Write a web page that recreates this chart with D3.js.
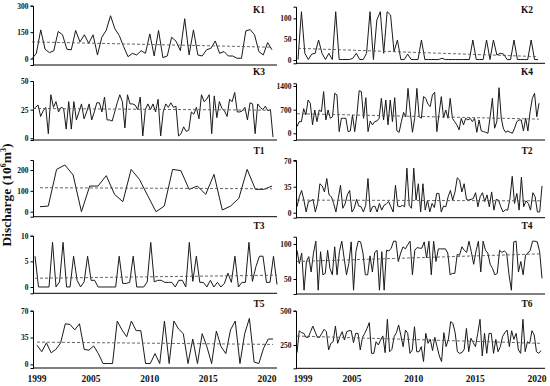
<!DOCTYPE html>
<html>
<head>
<meta charset="utf-8">
<script src="https://cdn.jsdelivr.net/npm/d3@7"></script>
<style>
  body { margin: 0; background: #fff; }
  svg { display: block; font-family: "Liberation Serif", "Times New Roman", serif; }
</style>
</head>
<body>
<div id="chart"></div>
<script>
// Discharge series (10^6 m^3)
const K1 = [0,30,163,53,34,45,154,135,53,50,160,95,135,87,135,21,121,160,243,169,131,68,11,30,21,45,30,140,15,160,6,15,121,99,45,226,21,163,21,15,50,59,100,30,40,15,15,2,2,157,165,135,40,21,91,50];
const K2 = [1,116,16,1,14,16,48,16,1,16,1,116,1,1,1,1,4,16,1,1,16,116,1,96,116,16,116,108,20,48,1,1,14,1,1,1,48,1,1,1,1,1,4,1,1,1,1,1,1,1,1,48,1,1,1,48,1,48,12,16,14,1,1,48,1,1,1,1,48,1,1];
const K3 = [25,27,29,19,24,27,4,38,27,32,23,27,26,8,32,8,32,16,23,30,17,23,30,16,23,31,31,23,36,16,16,15,23,31,38,32,9,38,30,30,29,25,36,2,25,30,25,30,23,34,2,23,30,27,31,27,28,2,4,10,6,7,23,21,27,17,38,32,34,38,4,37,18,32,26,24,19,34,32,40,23,23,24,27,16,31,30,4,30,27,25,28,24,25,1];
const K4 = [200,345,345,730,550,985,890,250,690,345,690,640,1235,395,690,445,490,1185,1135,50,445,445,445,50,70,540,50,560,1260,1235,445,1055,50,365,250,345,365,445,1035,395,985,250,985,345,1055,70,30,345,620,490,1330,640,30,445,1330,490,445,1085,1035,855,790,1135,1215,50,590,1085,465,690,445,1035,445,345,250,100,445,250,445,395,445,345,445,30,395,70,50,30,0,490,1035,150,345,1350,445,130,30,70,30,0,150,345,395,395,70,445,70,640,1035,1185,490,890];
const T1 = [24,27,203,224,176,0,123,123,173,83,48,203,155,77,0,27,203,197,107,123,83,179,8,27,64,203,107,107,123];
const T2 = [8,21.5,30,17,1,15,16,18,1,12.5,39,36,28,46,24,21.5,12.5,1,19,37,6,12,24,30,1,6,18,9,8,1,10,46,1,8,9,1,12.5,3.5,10,12,15,8,1,37,9,8,10,8,60,10,6,60,17,39,1,39,3.5,17,1,12.5,7,26,26,1,9,8,21.5,30,17,28,47,44,28,39,18,17,18,19,27,8,21.5,27,15,24,8,28,3.5,18,17,8,1,4,3.5,19,49,12.5,26,3.5,48,8,16,12.5,3.5,27,21.5,1,1,36];
const T3 = [6,0,0,0,0,8.7,0,1,8.7,0,0,6,1.3,0,1,6,1.3,1.3,0,0,0,0,0,0,6,0.7,0.7,0.9,6,0,0,0,1,8.7,1,1.3,1.3,0.9,0.9,0.9,0,1.3,1.3,0,8.7,1.1,6,0.9,0.9,0,1.3,0,0.9,0,0.7,2.7,0.9,6,0,0.9,0.9,8.7,1.1,4,6,6,0.9,0.9,6,0.5];
const T4 = [91,72,87,34,75,82,60,87,104,34,89,56,58,91,65,56,96,56,89,104,80,56,72,103,34,89,104,103,87,56,56,83,60,88,91,34,89,34,91,90,94,104,104,75,87,96,93,99,104,56,91,95,94,94,103,80,104,56,104,75,93,93,93,93,87,56,58,58,85,84,96,91,88,104,89,71,90,104,60,104,91,87,71,65,56,58,91,88,90,87,56,34,103,104,60,75,56,84,87,91,104,104,103,89,51];
const T5 = [25,16.5,28,15,19.5,28,53,52,45,53,19.5,18.5,24,14,1,1,1,56.5,45,36,56.5,44,44,1,1,14,1,56.5,1,56.5,46,40,1,33,1,40,23,1,43.5,23,14,45,56.5,1,40,60,3,1,21,33,33];
const T6 = [194,354,340,335,306,306,347,388,347,306,306,335,364,347,214,262,274,388,262,311,347,286,347,354,354,267,335,335,214,306,335,371,413,189,189,274,250,286,316,194,437,201,218,311,340,396,316,238,359,335,189,214,383,201,201,238,129,335,262,291,209,306,238,170,129,340,238,291,420,408,340,201,189,194,218,371,201,299,267,238,335,437,170,335,189,335,335,189,291,201,238,311,340,359,238,354,291,335,214,189,437,201,274,262,354,323,201,189,209];

// Trend lines (start, end) as drawn in the figure
const trends = {
  K1: [95, 65], K2: [28, 8], K3: [26, 24.5], K4: [580, 420], T1: [115, 110],
  T2: [17, 16], T3: [1.7, 2.3], T4: [75, 86], T5: [29, 26], T6: [315, 262]
};

// Tick labels
const yTicks = {
  K1: [0, 150, 300], K2: [0, 50, 100], K3: [0, 25, 50], K4: [0, 700, 1400], T1: [0, 100, 200],
  T2: [0, 35, 70], T3: [0, 5, 10], T4: [50, 100], T5: [0, 35, 70], T6: [250, 500]
};
const yearTicks = [1999, 2005, 2010, 2015, 2020];

const width = 550;
const height = 386;

// Panel layout: column, vertical pixel extent, value domain at base/top, data x extent
const panels = [
  { name: 'K1', data: K1, col: 0, top: 5.7, base: 65, dom: [-36, 300], xs: [32, 272], ly: 10 },
  { name: 'K2', data: K2, col: 1, top: 6.7, base: 63.3, dom: [-8, 128], xs: [298, 538], ly: 10 },
  { name: 'K3', data: K3, col: 0, top: 81, base: 140, dom: [-1.5, 50], xs: [33, 273], ly: 72 },
  { name: 'K4', data: K4, col: 1, top: 83.3, base: 140, dom: [-198, 1480], xs: [297, 539], ly: 72 },
  { name: 'T1', data: T1, col: 0, top: 160, base: 216.7, dom: [-24, 248], xs: [40, 272], ly: 151 },
  { name: 'T2', data: T2, col: 1, top: 160, base: 217.7, dom: [-6.7, 71], xs: [297, 542], ly: 151 },
  { name: 'T3', data: T3, col: 0, top: 235.7, base: 293.3, dom: [-1.23, 10], xs: [35, 277], ly: 226 },
  { name: 'T4', data: T4, col: 1, top: 236.7, base: 294, dom: [28.6, 110.4], xs: [297, 542], ly: 226 },
  { name: 'T5', data: T5, col: 0, top: 310.7, base: 368, dom: [-4.8, 70], xs: [37, 273], ly: 304 },
  { name: 'T6', data: T6, col: 1, top: 310.7, base: 368.3, dom: [80, 500], xs: [297, 541], ly: 304 }
];

const columns = [
  { x0: 33, x1: 277, labelX: 259, years: [37, 91, 267] },
  { x0: 296, x1: 545, labelX: 527, years: [303, 352, 537] }
];

const svg = d3.select('#chart')
  .append('svg')
  .attr('width', width)
  .attr('height', height);

panels.forEach(p => {
  const c = columns[p.col];
  const g = svg.append('g');

  const y = d3.scaleLinear().domain(p.dom).range([p.base, p.top]);
  const x = d3.scaleLinear().domain([0, p.data.length - 1]).range(p.xs);

  // y axis
  const yAxis = g.append('g')
    .attr('transform', `translate(${c.x0},0)`)
    .call(d3.axisLeft(y).tickValues(yTicks[p.name]).tickSize(2.5).tickPadding(2).tickFormat(d3.format('d')));
  yAxis.select('.domain').attr('stroke', '#000').attr('stroke-width', 1);
  yAxis.selectAll('.tick line').attr('stroke', '#000');
  yAxis.selectAll('text')
    .attr('font-family', '"Liberation Serif", serif')
    .attr('font-weight', 'bold')
    .attr('font-size', 7.5)
    .attr('fill', '#111');

  // x axis (baseline); years only on bottom row
  const xYear = d3.scaleLinear().domain([1999, 2005, 2020]).range(c.years);
  const xAxis = g.append('g').attr('transform', `translate(0,${p.base})`);
  xAxis.append('line')
    .attr('x1', c.x0).attr('x2', c.x1)
    .attr('stroke', '#000').attr('stroke-width', 1);
  if (p.name === 'T5' || p.name === 'T6') {
    xAxis.selectAll('text')
      .data(yearTicks)
      .enter()
      .append('text')
      .attr('x', d => xYear(d))
      .attr('y', 14)
      .attr('text-anchor', 'middle')
      .attr('font-weight', 'bold')
      .attr('font-size', 9.5)
      .attr('fill', '#111')
      .text(d => d);
  }

  // series line
  g.append('path')
    .datum(p.data)
    .attr('fill', 'none')
    .attr('stroke', '#1a1a1a')
    .attr('stroke-width', 1)
    .attr('stroke-linejoin', 'round')
    .attr('d', d3.line().x((d, i) => x(i)).y(d => y(d)));

  // dashed trend
  const t = trends[p.name];
  g.append('path')
    .datum(t)
    .attr('fill', 'none')
    .attr('stroke', '#555')
    .attr('stroke-width', 0.9)
    .attr('stroke-dasharray', '3,2')
    .attr('d', d3.line().x((d, i) => i === 0 ? p.xs[0] : p.xs[1]).y(d => y(d)));

  // panel label
  g.append('text')
    .attr('x', c.labelX)
    .attr('y', p.ly)
    .attr('dy', '0.35em')
    .attr('text-anchor', 'middle')
    .attr('font-weight', 'bold')
    .attr('font-size', 9.5)
    .attr('fill', '#111')
    .text(p.name);
});

// shared y label
const yl = svg.append('text')
  .attr('transform', 'translate(11,195) rotate(-90)')
  .attr('text-anchor', 'middle')
  .attr('font-weight', 'bold')
  .attr('font-size', 13.5)
  .attr('fill', '#111');
yl.append('tspan').text('Discharge (10');
yl.append('tspan').attr('font-size', 8).attr('dy', -5).text('6');
yl.append('tspan').attr('dy', 5).text('m');
yl.append('tspan').attr('font-size', 8).attr('dy', -5).text('3');
yl.append('tspan').attr('dy', 5).text(')');
</script>
</body>
</html>
